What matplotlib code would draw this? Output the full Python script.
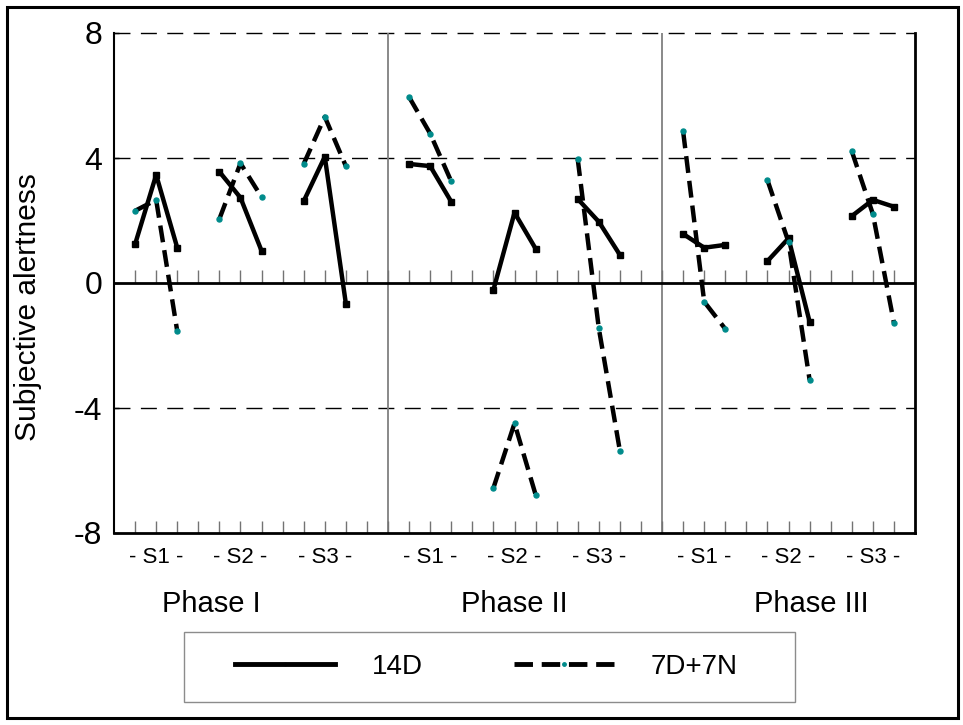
"""Subjective alertness by phase and session, 14D vs 7D+7N."""

import numpy as np
import matplotlib.pyplot as plt
from matplotlib.lines import Line2D
from matplotlib.patches import Rectangle
from matplotlib.transforms import blended_transform_factory


PHASES = ['Phase I', 'Phase II', 'Phase III']
SESSIONS = ['- S1 -', '- S2 -', '- S3 -']

# three readings per session, sessions S1..S3 for phases I..III
ALERT_14D = [
    [1.24, 3.46, 1.13], [3.56, 2.73, 1.03], [2.62, 4.04, -0.66],
    [3.81, 3.74, 2.60], [-0.22, 2.25, 1.10], [2.69, 1.96, 0.90],
    [1.57, 1.13, 1.22], [0.70, 1.43, -1.24], [2.14, 2.66, 2.44]]
ALERT_7D7N = [
    [2.31, 2.66, -1.54], [2.05, 3.83, 2.75], [3.81, 5.32, 3.74],
    [5.95, 4.78, 3.25], [-6.56, -4.49, -6.77], [3.96, -1.45, -5.37],
    [4.85, -0.60, -1.47], [3.29, 1.31, -3.10], [4.22, 2.21, -1.27]]
YTICKS = [-8, -4, 0, 4, 8]


def main():
    """Draw the figure and save it."""

    plt.rc('font', family=['Liberation Sans', 'DejaVu Sans'], size=20)
    plt.rc('axes', unicode_minus=False)

    fig = plt.figure(figsize=(9.63, 7.25), dpi=100)
    ax = fig.add_axes([114/963, 1-533/725, 801/963, 500/725])

    # x layout: 13 slots per phase, 4 per session
    step, width = 13, 38
    xpos = [p*step + s*4 + np.arange(1, 4)
            for p in range(len(PHASES)) for s in range(len(SESSIONS))]

    # data
    for x, y14, y7 in zip(xpos, ALERT_14D, ALERT_7D7N):
        ax.plot(x, y14, color='k', lw=3.2, marker='s', ms=5,
                solid_capstyle='butt', zorder=3)
        ax.plot(x, y7, color='k', lw=3.2, dashes=(3.8, 1.8),
                marker='o', ms=3.6, mfc='#008b8b', mec='#008b8b',
                zorder=4)

    # reference lines
    for y in (4, -4, 8):
        ax.axhline(y, color='k', lw=1, dashes=(11.5, 7.5), clip_on=False,
                   zorder=1)
    ax.axhline(0, color='k', lw=2, zorder=2)
    for p in range(1, len(PHASES)):
        ax.axvline(p*step, color='0.5', lw=1.3, zorder=1)
    ax.vlines(np.arange(1, width), 0, 0.42, color='0.45', lw=1, zorder=1)

    # axes
    ax.set_xlim(0, width)
    ax.set_ylim(-8, 8)
    ax.spines['top'].set_visible(False)
    ax.spines['left'].set_linewidth(1.5)
    ax.spines['bottom'].set_linewidth(2)
    ax.spines['right'].set_linewidth(2)
    ax.set_yticks(YTICKS)
    ax.tick_params(axis='y', direction='in', length=3.5, width=1,
                   pad=8.5, labelsize=23)
    ax.set_xticks([x[1] for x in xpos])
    ax.set_xticklabels(SESSIONS * len(PHASES), fontsize=16)
    ax.set_xticks(np.arange(1, width), minor=True)
    ax.xaxis.remove_overlapping_locs = False
    ax.tick_params(axis='x', which='major', length=0, pad=10)
    ax.tick_params(axis='x', which='minor', direction='in', length=8.6,
                   width=1, color='0.45')
    ax.set_ylabel('Subjective alertness', fontsize=21.5)
    ax.yaxis.set_label_coords(-0.09, 0.452)

    # phase labels
    trans = blended_transform_factory(ax.transData, ax.transAxes)
    for x, label in zip([4.6, 19.0, 33.1], PHASES):
        ax.text(x, -0.142, label, transform=trans, ha='center',
                va='center', fontsize=21)

    # legend
    handles = [Line2D([], [], color='k', lw=3.5, marker='s', ms=2),
               Line2D([], [], color='k', lw=3.5, dashes=(3.8, 1.8),
                      marker='o', ms=2.5, mfc='#008b8b', mec='#008b8b')]
    fig.legend(handles, ['14D', '7D+7N'], loc='center', ncol=2,
               bbox_to_anchor=(0.505, 0.08), frameon=False, fontsize=20,
               handlelength=3.6, handletextpad=1.3, columnspacing=3.3)
    fig.add_artist(Rectangle((184/963, 1-702/725), 611/963, 70/725,
                             transform=fig.transFigure, fill=False,
                             ec='0.55', lw=1))

    # outer frame
    fig.add_artist(Rectangle((7/963, 1-718/725), 951/963, 711/725,
                             transform=fig.transFigure, fill=False,
                             ec='k', lw=2.2))

    fig.savefig('out.png')
    plt.close(fig)


if __name__ == '__main__':
    main()
